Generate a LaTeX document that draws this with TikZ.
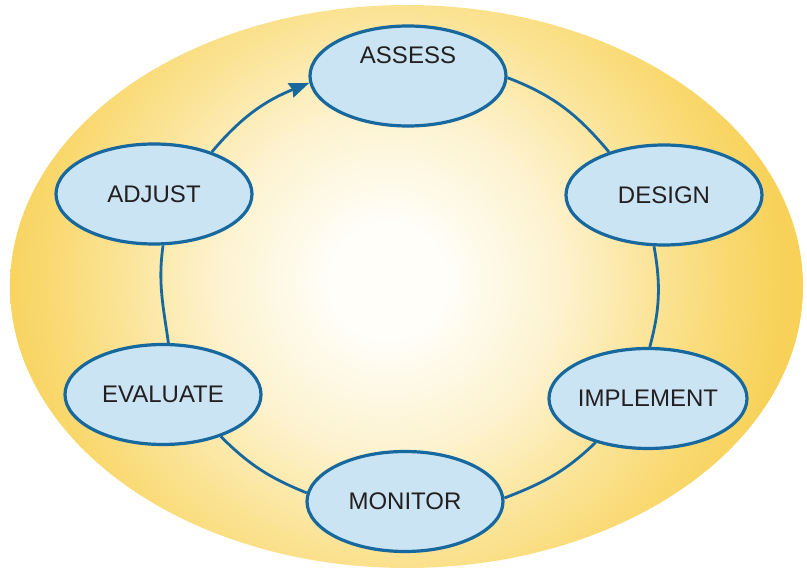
\documentclass[tikz,border=0pt]{standalone}
\usepackage{fontspec}
\setmainfont{Liberation Sans}
\usetikzlibrary{shapes.geometric,arrows.meta}
\definecolor{cycblue}{RGB}{22,104,158}
\definecolor{nodefill}{RGB}{202,228,243}
\definecolor{gold}{RGB}{247,209,88}
\definecolor{golddeep}{RGB}{249,216,110}
\definecolor{goldmid}{RGB}{251,227,148}
\definecolor{goldlight}{RGB}{253,242,205}
\definecolor{centerwhite}{RGB}{255,254,249}
\definecolor{txt}{RGB}{35,31,32}
\pgfdeclareradialshading{glow}{\pgfpoint{0bp}{0bp}}{%
  color(0bp)=(centerwhite); color(1.75bp)=(centerwhite); color(5.5bp)=(goldlight);
  color(8.5bp)=(goldmid); color(10.75bp)=(golddeep); color(12.5bp)=(gold); color(50bp)=(gold)}
\tikzset{
  stage/.style={ellipse, draw=cycblue, line width=3.2pt, fill=nodefill,
    minimum width=196pt, minimum height=100pt, inner sep=0pt,
    text=txt, font=\fontsize{24}{28}\selectfont},
  link/.style={draw=cycblue, line width=2.8pt},
}
\begin{document}
\begin{tikzpicture}[x=1pt,y=1pt]
\useasboundingbox (0,0) rectangle (807,571);
% background glow: circular gradient clipped to the ellipse
\begin{scope}
  \clip (406.5,284.5) ellipse [x radius=396.5, y radius=281.5];
  \shade[shading=glow] (388,290) circle [radius=800];
\end{scope}
% stages
\node[stage] (assess) at (408,495) {\raisebox{12.5pt}[0pt][0pt]{ASSESS}};
\node[stage] (design) at (664,376) {DESIGN};
\node[stage] (implement) at (648,172.5) {IMPLEMENT};
\node[stage] (monitor) at (405,69.5) {MONITOR};
\node[stage] (evaluate) at (163,176.5) {EVALUATE};
\node[stage] (adjust) at (154,377) {ADJUST};
% cycle connectors
\draw[link, -{Stealth[length=20pt,width=15pt,inset=2pt]}]
  (adjust.36) to[out=50,in=202] (assess.184);
\draw[link] (assess.359) to[out=-21,in=130] (design.142);
\draw[link] (design.259) to[out=-80,in=75] (implement.88);
\draw[link] (implement.220) to[out=224,in=21] (monitor.2);
\draw[link] (monitor.175) to[out=158,in=-45] (evaluate.324);
\draw[link] (evaluate.84) to[out=98,in=262] (adjust.280);
\end{tikzpicture}
\end{document}
